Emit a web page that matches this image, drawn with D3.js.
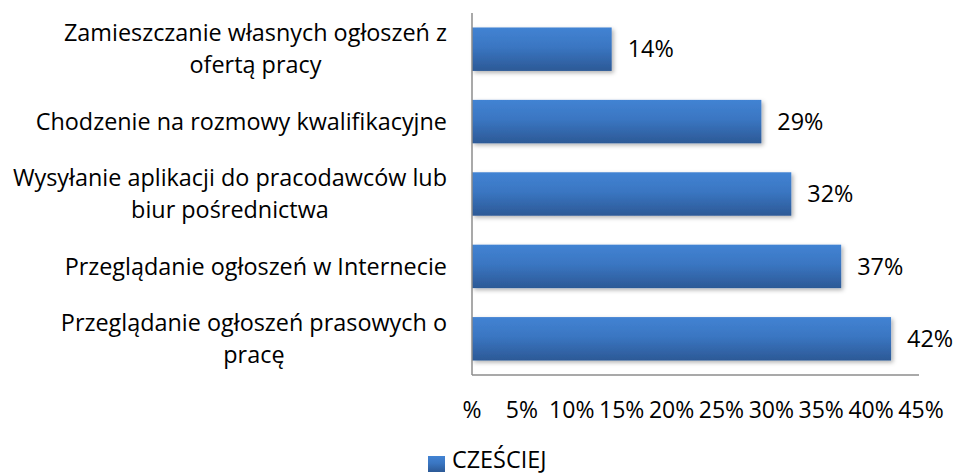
<!DOCTYPE html>
<html lang="pl">
<head>
  <meta charset="UTF-8">
  <title>CZEŚCIEJ</title>
  <style>
    body { margin: 0; background: #fff; }
    svg { display: block; font-family: "Open Sans", sans-serif; }
    .lbl { font-size: 23.4px; fill: #000; }
    .tick { font-size: 23px; fill: #000; }
    .axis-line { stroke: #8c8c8c; stroke-width: 1.5; }
  </style>
</head>
<body>
  <svg></svg>
<script src="https://d3js.org/d3.v7.min.js"></script>
<script>

  let categories = [
    ['Zamieszczanie własnych ogłoszeń z', 'ofertą pracy'],
    ['Chodzenie na rozmowy kwalifikacyjne'],
    ['Wysyłanie aplikacji do pracodawców lub', 'biur pośrednictwa'],
    ['Przeglądanie ogłoszeń w Internecie'],
    ['Przeglądanie ogłoszeń prasowych o', 'pracę']
  ];
  let values = [0.14, 0.29, 0.32, 0.37, 0.42];
  let ticks = [0, 0.05, 0.10, 0.15, 0.20, 0.25, 0.30, 0.35, 0.40, 0.45];
  let tickLabels = ['%', '5%', '10%', '15%', '20%', '25%', '30%', '35%', '40%', '45%'];
  let seriesName = 'CZEŚCIEJ';

  let width = 954,
    height = 474;

  let svg = d3.select('svg')
    .attr('width', width)
    .attr('height', height);

  let x = d3.scaleLinear()
    .domain([0, 0.45])
    .range([472, 921]);

  let y = d3.scaleBand()
    .domain(d3.range(categories.length))
    .range([13, 375])
    .paddingInner(0.4)
    .paddingOuter(0.2);

  let defs = svg.append('defs');
  let grad = defs.append('linearGradient')
    .attr('id', 'barGrad')
    .attr('x1', 0).attr('x2', 0).attr('y1', 0).attr('y2', 1);
  grad.append('stop').attr('offset', '0%').attr('stop-color', '#4283d3');
  grad.append('stop').attr('offset', '45%').attr('stop-color', '#3a76c2');
  grad.append('stop').attr('offset', '100%').attr('stop-color', '#2c5996');

  let shadow = defs.append('filter')
    .attr('id', 'shadow')
    .attr('x', '-5%').attr('y', '-20%').attr('width', '115%').attr('height', '150%');
  shadow.append('feDropShadow')
    .attr('dx', 2).attr('dy', 2).attr('stdDeviation', 2)
    .attr('flood-color', '#000').attr('flood-opacity', 0.3);

  // bars
  svg.append('g')
    .selectAll('rect')
    .data(values)
    .enter()
    .append('rect')
    .attr('x', x(0))
    .attr('y', (d, i) => y(i))
    .attr('width', d => x(d) - x(0))
    .attr('height', y.bandwidth())
    .attr('fill', 'url(#barGrad)')
    .attr('filter', 'url(#shadow)');

  // value labels
  svg.append('g')
    .selectAll('text')
    .data(values)
    .enter()
    .append('text')
    .attr('class', 'lbl')
    .attr('x', d => x(d) + 16)
    .attr('y', (d, i) => y(i) + y.bandwidth() / 2)
    .attr('dy', '0.35em')
    .text(d => Math.round(d * 100) + '%');

  // axes lines
  svg.append('line')
    .attr('class', 'axis-line')
    .attr('x1', x(0)).attr('x2', x(0))
    .attr('y1', 13).attr('y2', 375);
  svg.append('line')
    .attr('class', 'axis-line')
    .attr('x1', x(0)).attr('x2', x(0.45) - 2)
    .attr('y1', 375).attr('y2', 375);

  // tick labels
  svg.append('g')
    .selectAll('text')
    .data(ticks)
    .enter()
    .append('text')
    .attr('class', 'tick')
    .attr('x', d => x(d))
    .attr('y', 418)
    .attr('text-anchor', 'middle')
    .text((d, i) => tickLabels[i]);

  // category labels, block right-aligned, lines centred
  let labelRight = 447,
    lineH = 32;
  categories.forEach((lines, i) => {
    let g = svg.append('g');
    let cy = y(i) + y.bandwidth() / 2;
    let texts = lines.map((l, j) => g.append('text')
      .attr('class', 'lbl')
      .attr('y', cy + (j - (lines.length - 1) / 2) * lineH)
      .attr('dy', '0.35em')
      .attr('text-anchor', 'middle')
      .text(l));
    let maxW = d3.max(texts, t => t.node().getComputedTextLength());
    texts.forEach(t => t.attr('x', labelRight - maxW / 2));
  });

  // legend
  let legend = svg.append('g');
  legend.append('rect')
    .attr('x', 428).attr('y', 456)
    .attr('width', 17).attr('height', 16)
    .attr('fill', 'url(#barGrad)');
  legend.append('text')
    .attr('class', 'lbl')
    .attr('x', 452)
    .attr('y', 468)
    .text(seriesName);
</script>
</body>
</html>
